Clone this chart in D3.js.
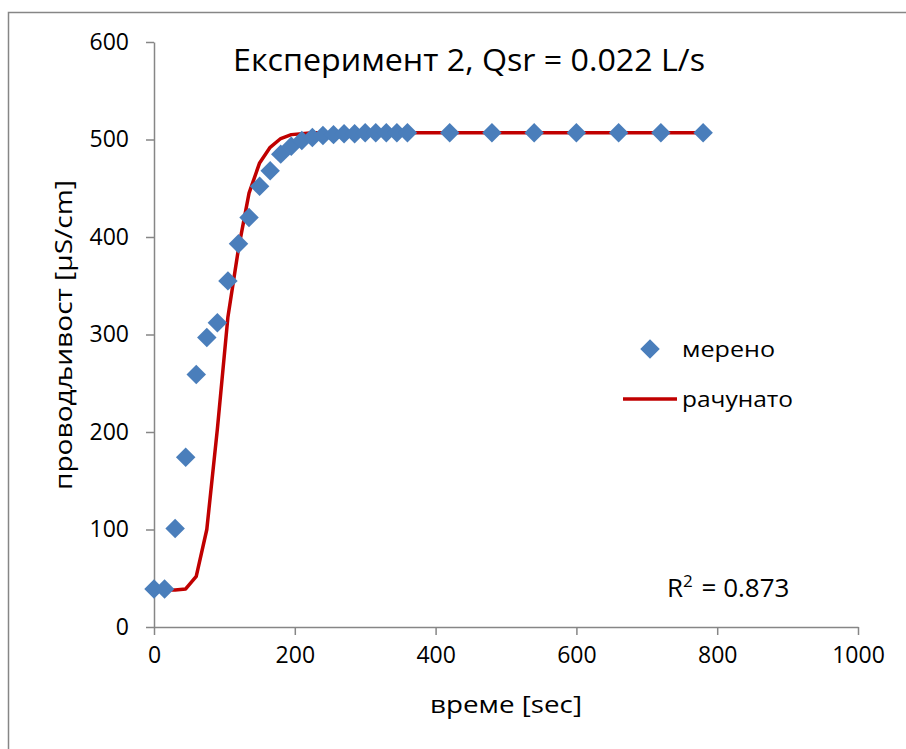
<!DOCTYPE html>
<html>
<head>
<meta charset="utf-8">
<script src="https://cdn.jsdelivr.net/npm/d3@7"></script>
<style>
  html, body { margin: 0; padding: 0; background: #fff; }
  svg { display: block; font-family: "Open Sans", "Noto Sans", sans-serif; }
</style>
</head>
<body>
<svg id="chart" width="906" height="749"></svg>
<script>
// Time of each sample, seconds
const timeSec = [0, 15, 30, 45, 60, 75, 90, 105, 120, 135, 150, 165, 180, 195, 210,
  225, 240, 255, 270, 285, 300, 315, 330, 345, 360, 420, 480, 540, 600, 660, 720, 780];
// Measured conductivity, µS/cm
const measured = [39, 39, 101, 174, 259, 297, 312, 355, 393, 420, 452, 468, 485, 493, 499,
  502, 504, 505, 506, 506, 507, 507, 507, 507, 507, 507, 507, 507, 507, 507, 507, 507];
// Computed conductivity, µS/cm
const computed = [38, 38, 38, 39, 52, 100, 203, 318, 388, 445, 476, 492, 501, 505, 506,
  507, 507, 507, 507, 507, 507, 507, 507, 507, 507, 507, 507, 507, 507, 507, 507, 507];

const xTicks = [0, 200, 400, 600, 800, 1000];
const yTicks = [0, 100, 200, 300, 400, 500, 600];

const titleText = "Експеримент 2, Qsr = 0.022 L/s";
const xTitle = "време [sec]";
const yTitle = "проводљивост [µS/cm]";
const seriesNames = ["мерено", "рачунато"];
const r2Value = "0.873";

const axisColor = "#868686";
const markerColor = "#4A7EBB";
const lineColor = "#C00000";

const svg = d3.select("#chart");

// Outer chart frame
svg.append("rect")
  .attr("x", 8.5).attr("y", 12.5)
  .attr("width", 1000).attr("height", 1000)
  .attr("fill", "none").attr("stroke", axisColor).attr("stroke-width", 1.5);

const x = d3.scaleLinear().domain([0, 1000]).range([154, 858]);
const y = d3.scaleLinear().domain([0, 600]).range([627, 42]);

// Stretch or squeeze a text node to an exact width
function fit(sel, w) {
  const n = sel.node();
  const cur = n.getComputedTextLength();
  if (Math.abs(cur - w) > 1) sel.attr("textLength", w).attr("lengthAdjust", "spacingAndGlyphs");
  return sel;
}

// Y axis
const yAxis = svg.append("g")
  .attr("transform", `translate(${x(0)},0)`)
  .call(d3.axisLeft(y).tickValues(yTicks).tickFormat(d3.format("d"))
    .tickSize(8).tickPadding(17).tickSizeOuter(0));
yAxis.select(".domain").attr("stroke", axisColor).attr("stroke-width", 1.5);
yAxis.selectAll(".tick line").attr("stroke", axisColor).attr("stroke-width", 1.5);
yAxis.selectAll(".tick text")
  .attr("font-size", 23).attr("fill", "#000").attr("font-family", "Open Sans, Noto Sans, sans-serif");

// X axis
const xAxis = svg.append("g")
  .attr("transform", `translate(0,${y(0)})`)
  .call(d3.axisBottom(x).tickValues(xTicks).tickFormat(d3.format("d"))
    .tickSize(8).tickPadding(12).tickSizeOuter(0));
xAxis.select(".domain").attr("stroke", axisColor).attr("stroke-width", 1.5);
xAxis.selectAll(".tick line").attr("stroke", axisColor).attr("stroke-width", 1.5);
xAxis.selectAll(".tick text")
  .attr("font-size", 23).attr("fill", "#000").attr("font-family", "Open Sans, Noto Sans, sans-serif");

// Computed curve
const pts = timeSec.map((t, i) => ({ t, m: measured[i], c: computed[i] }));
svg.append("path")
  .datum(pts)
  .attr("fill", "none")
  .attr("stroke", lineColor)
  .attr("stroke-width", 3.5)
  .attr("stroke-linejoin", "round")
  .attr("d", d3.line().x(d => x(d.t)).y(d => y(d.c)));

// Measured markers
const diamond = d3.symbol().type(d3.symbolSquare).size(190);
svg.append("g").selectAll("path")
  .data(pts)
  .join("path")
  .attr("d", diamond)
  .attr("transform", d => `translate(${x(d.t)},${y(d.m)}) rotate(45)`)
  .attr("fill", markerColor);

// Title
fit(svg.append("text")
  .attr("x", 233).attr("y", 71)
  .attr("font-size", 31).attr("fill", "#000")
  .text(titleText), 472);

// Axis titles
fit(svg.append("text")
  .attr("x", 430).attr("y", 713)
  .attr("font-size", 23).attr("fill", "#000")
  .text(xTitle), 152);

fit(svg.append("text")
  .attr("transform", "translate(72,490) rotate(-90)")
  .attr("font-size", 23).attr("fill", "#000")
  .text(yTitle), 310);

// Legend
const legend = svg.append("g");
legend.append("path")
  .attr("d", diamond)
  .attr("transform", "translate(650,349) rotate(45)")
  .attr("fill", markerColor);
fit(legend.append("text")
  .attr("x", 682).attr("y", 357)
  .attr("font-size", 22).attr("fill", "#000")
  .text(seriesNames[0]), 93);
legend.append("line")
  .attr("x1", 623).attr("x2", 677).attr("y1", 399).attr("y2", 399)
  .attr("stroke", lineColor).attr("stroke-width", 3.5);
fit(legend.append("text")
  .attr("x", 682).attr("y", 407)
  .attr("font-size", 22).attr("fill", "#000")
  .text(seriesNames[1]), 111);

// Coefficient of determination
const r2 = svg.append("text")
  .attr("x", 667).attr("y", 597)
  .attr("font-size", 26).attr("fill", "#000");
r2.append("tspan").text("R");
r2.append("tspan").attr("font-size", 17).attr("dy", -10).text("2");
r2.append("tspan").attr("dy", 10).attr("dx", 2).text(" = " + r2Value);
</script>
</body>
</html>
